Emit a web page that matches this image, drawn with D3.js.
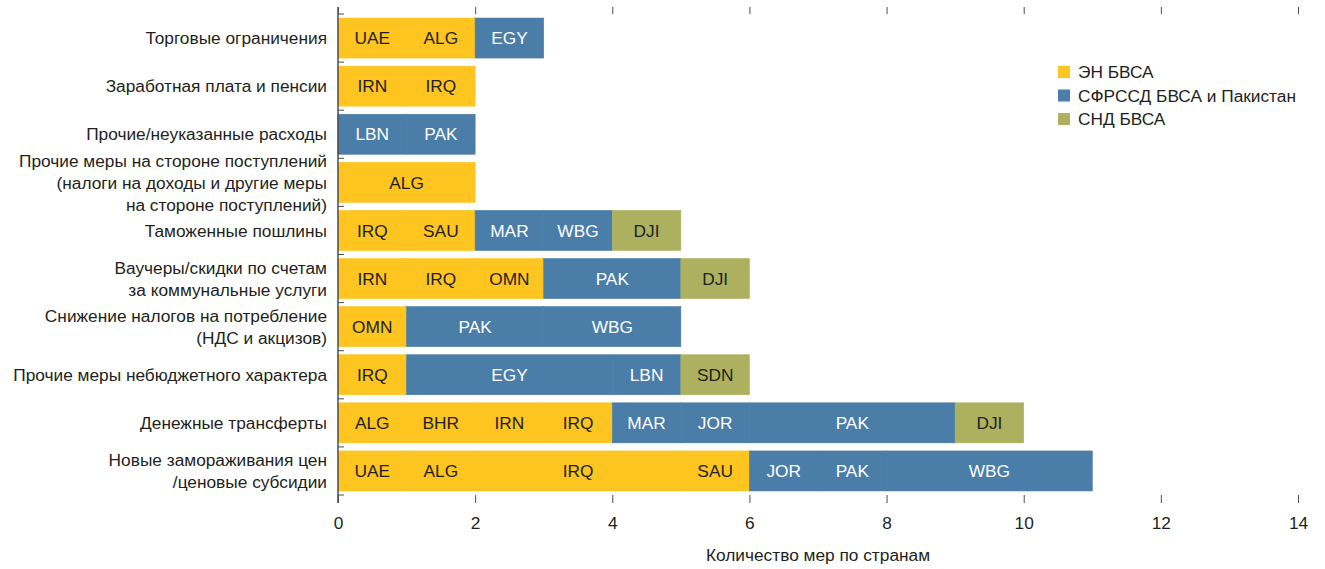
<!DOCTYPE html>
<html>
<head>
<meta charset="utf-8">
<script src="https://cdn.jsdelivr.net/npm/d3@7"></script>
<style>
  html, body { margin: 0; padding: 0; background: #fff; }
  svg text { font-family: "Liberation Sans Narrow", "Arial Narrow", "Liberation Sans", sans-serif; }
</style>
</head>
<body>
<svg id="chart" width="1325" height="569"></svg>
<script>
// ---- data ----
const categories = [
  ["Торговые ограничения"],
  ["Заработная плата и пенсии"],
  ["Прочие/неуказанные расходы"],
  ["Прочие меры на стороне поступлений", "(налоги на доходы и другие меры", "на стороне поступлений)"],
  ["Таможенные пошлины"],
  ["Ваучеры/скидки по счетам", "за коммунальные услуги"],
  ["Снижение налогов на потребление", "(НДС и акцизов)"],
  ["Прочие меры небюджетного характера"],
  ["Денежные трансферты"],
  ["Новые замораживания цен", "/ценовые субсидии"]
];
const segmentLabels = [
  ["UAE", "ALG", "EGY"],
  ["IRN", "IRQ"],
  ["LBN", "PAK"],
  ["ALG"],
  ["IRQ", "SAU", "MAR", "WBG", "DJI"],
  ["IRN", "IRQ", "OMN", "PAK", "DJI"],
  ["OMN", "PAK", "WBG"],
  ["IRQ", "EGY", "LBN", "SDN"],
  ["ALG", "BHR", "IRN", "IRQ", "MAR", "JOR", "PAK", "DJI"],
  ["UAE", "ALG", "IRQ", "SAU", "JOR", "PAK", "WBG"]
];
const segmentValues = [
  [1, 1, 1],
  [1, 1],
  [1, 1],
  [2],
  [1, 1, 1, 1, 1],
  [1, 1, 1, 2, 1],
  [1, 2, 2],
  [1, 3, 1, 1],
  [1, 1, 1, 1, 1, 1, 3, 1],
  [1, 1, 3, 1, 1, 1, 3]
];
const segmentGroups = [
  [0, 0, 1],
  [0, 0],
  [1, 1],
  [0],
  [0, 0, 1, 1, 2],
  [0, 0, 0, 1, 2],
  [0, 1, 1],
  [0, 1, 1, 2],
  [0, 0, 0, 0, 1, 1, 1, 2],
  [0, 0, 0, 0, 1, 1, 1]
];
const groupNames = ["ЭН БВСА", "СФРССД БВСА и Пакистан", "СНД БВСА"];
const groupColors = ["#fec41f", "#4a7da7", "#adb15f"];
const groupTextColors = ["#231f20", "#ffffff", "#231f20"];
const xTicks = [0, 2, 4, 6, 8, 10, 12, 14];
const xTitle = "Количество мер по странам";

// ---- layout ----
const svg = d3.select("#chart");
const mLeft = 338, mRight = 1298, mTop = 14, mBottom = 495;
const fs = 17.3;
const x = d3.scaleLinear().domain([0, 14]).range([mLeft, mRight]);
const y = d3.scaleBand().domain(d3.range(categories.length)).range([mTop, mBottom])
  .paddingInner(0.168).paddingOuter(0.084);
const axisColor = "#4d4d4d";
const textColor = "#231f20";

// build stacked segments
const segs = [];
segmentValues.forEach((vals, r) => {
  let acc = 0;
  vals.forEach((v, i) => {
    segs.push({ row: r, x0: acc, x1: acc + v, label: segmentLabels[r][i], g: segmentGroups[r][i] });
    acc += v;
  });
});

const bars = svg.append("g");
bars.selectAll("rect").data(segs).join("rect")
  .attr("x", d => x(d.x0))
  .attr("y", d => y(d.row))
  .attr("width", d => x(d.x1) - x(d.x0))
  .attr("height", y.bandwidth())
  .attr("fill", d => groupColors[d.g])
  .attr("stroke", d => groupColors[d.g])
  .attr("stroke-width", 0.6);

bars.selectAll("text").data(segs).join("text")
  .attr("x", d => x((d.x0 + d.x1) / 2))
  .attr("y", d => y(d.row) + y.bandwidth() / 2)
  .attr("dy", "0.36em")
  .attr("text-anchor", "middle")
  .attr("font-size", fs)
  .attr("fill", d => groupTextColors[d.g])
  .text(d => d.label);

// category labels
const lineH = 22;
const cat = svg.append("g");
categories.forEach((lines, r) => {
  const cy = y(r) + y.bandwidth() / 2;
  const t = cat.append("text")
    .attr("text-anchor", "end")
    .attr("font-size", fs)
    .attr("fill", textColor);
  lines.forEach((ln, i) => {
    t.append("tspan")
      .attr("x", 327)
      .attr("y", cy + (i - (lines.length - 1) / 2) * lineH)
      .attr("dy", "0.36em")
      .text(ln);
  });
});

// left axis line and band-boundary ticks
const step = y.step();
const bounds = d3.range(categories.length + 1).map(i => mTop + i * step);
svg.append("line").attr("x1", mLeft).attr("x2", mLeft).attr("y1", 7).attr("y2", 503)
  .attr("stroke", axisColor).attr("stroke-width", 1.5);
svg.append("g").selectAll("line").data(bounds).join("line")
  .attr("x1", mLeft).attr("x2", mLeft + 6)
  .attr("y1", d => d).attr("y2", d => d)
  .attr("stroke", axisColor).attr("stroke-width", 1);

// top axis (ticks only)
const topAxis = svg.append("g").attr("transform", `translate(0,${mTop})`)
  .call(d3.axisTop(x).tickValues(xTicks).tickSize(7).tickFormat(""));
topAxis.select(".domain").remove();
topAxis.selectAll("line").attr("stroke", axisColor);

// bottom axis
const botAxis = svg.append("g").attr("transform", `translate(0,${mBottom})`)
  .call(d3.axisBottom(x).tickValues(xTicks).tickSize(8).tickPadding(14).tickFormat(d3.format("d")));
botAxis.select(".domain").remove();
botAxis.selectAll("line").attr("stroke", axisColor);
botAxis.selectAll("text").attr("font-size", fs).attr("fill", textColor)
  .style("font-family", '"Liberation Sans Narrow", "Arial Narrow", "Liberation Sans", sans-serif');

svg.append("text")
  .attr("x", (mLeft + mRight) / 2).attr("y", 555).attr("dy", "0.36em")
  .attr("text-anchor", "middle").attr("font-size", fs).attr("fill", textColor)
  .text(xTitle);

// legend
const lg = svg.append("g");
groupNames.forEach((n, i) => {
  const cy = 72 + i * 23.5;
  lg.append("rect").attr("x", 1058).attr("y", cy - 6).attr("width", 12).attr("height", 12)
    .attr("fill", groupColors[i]);
  lg.append("text").attr("x", 1078).attr("y", cy).attr("dy", "0.36em")
    .attr("font-size", fs).attr("fill", textColor).text(n);
});
</script>
</body>
</html>
